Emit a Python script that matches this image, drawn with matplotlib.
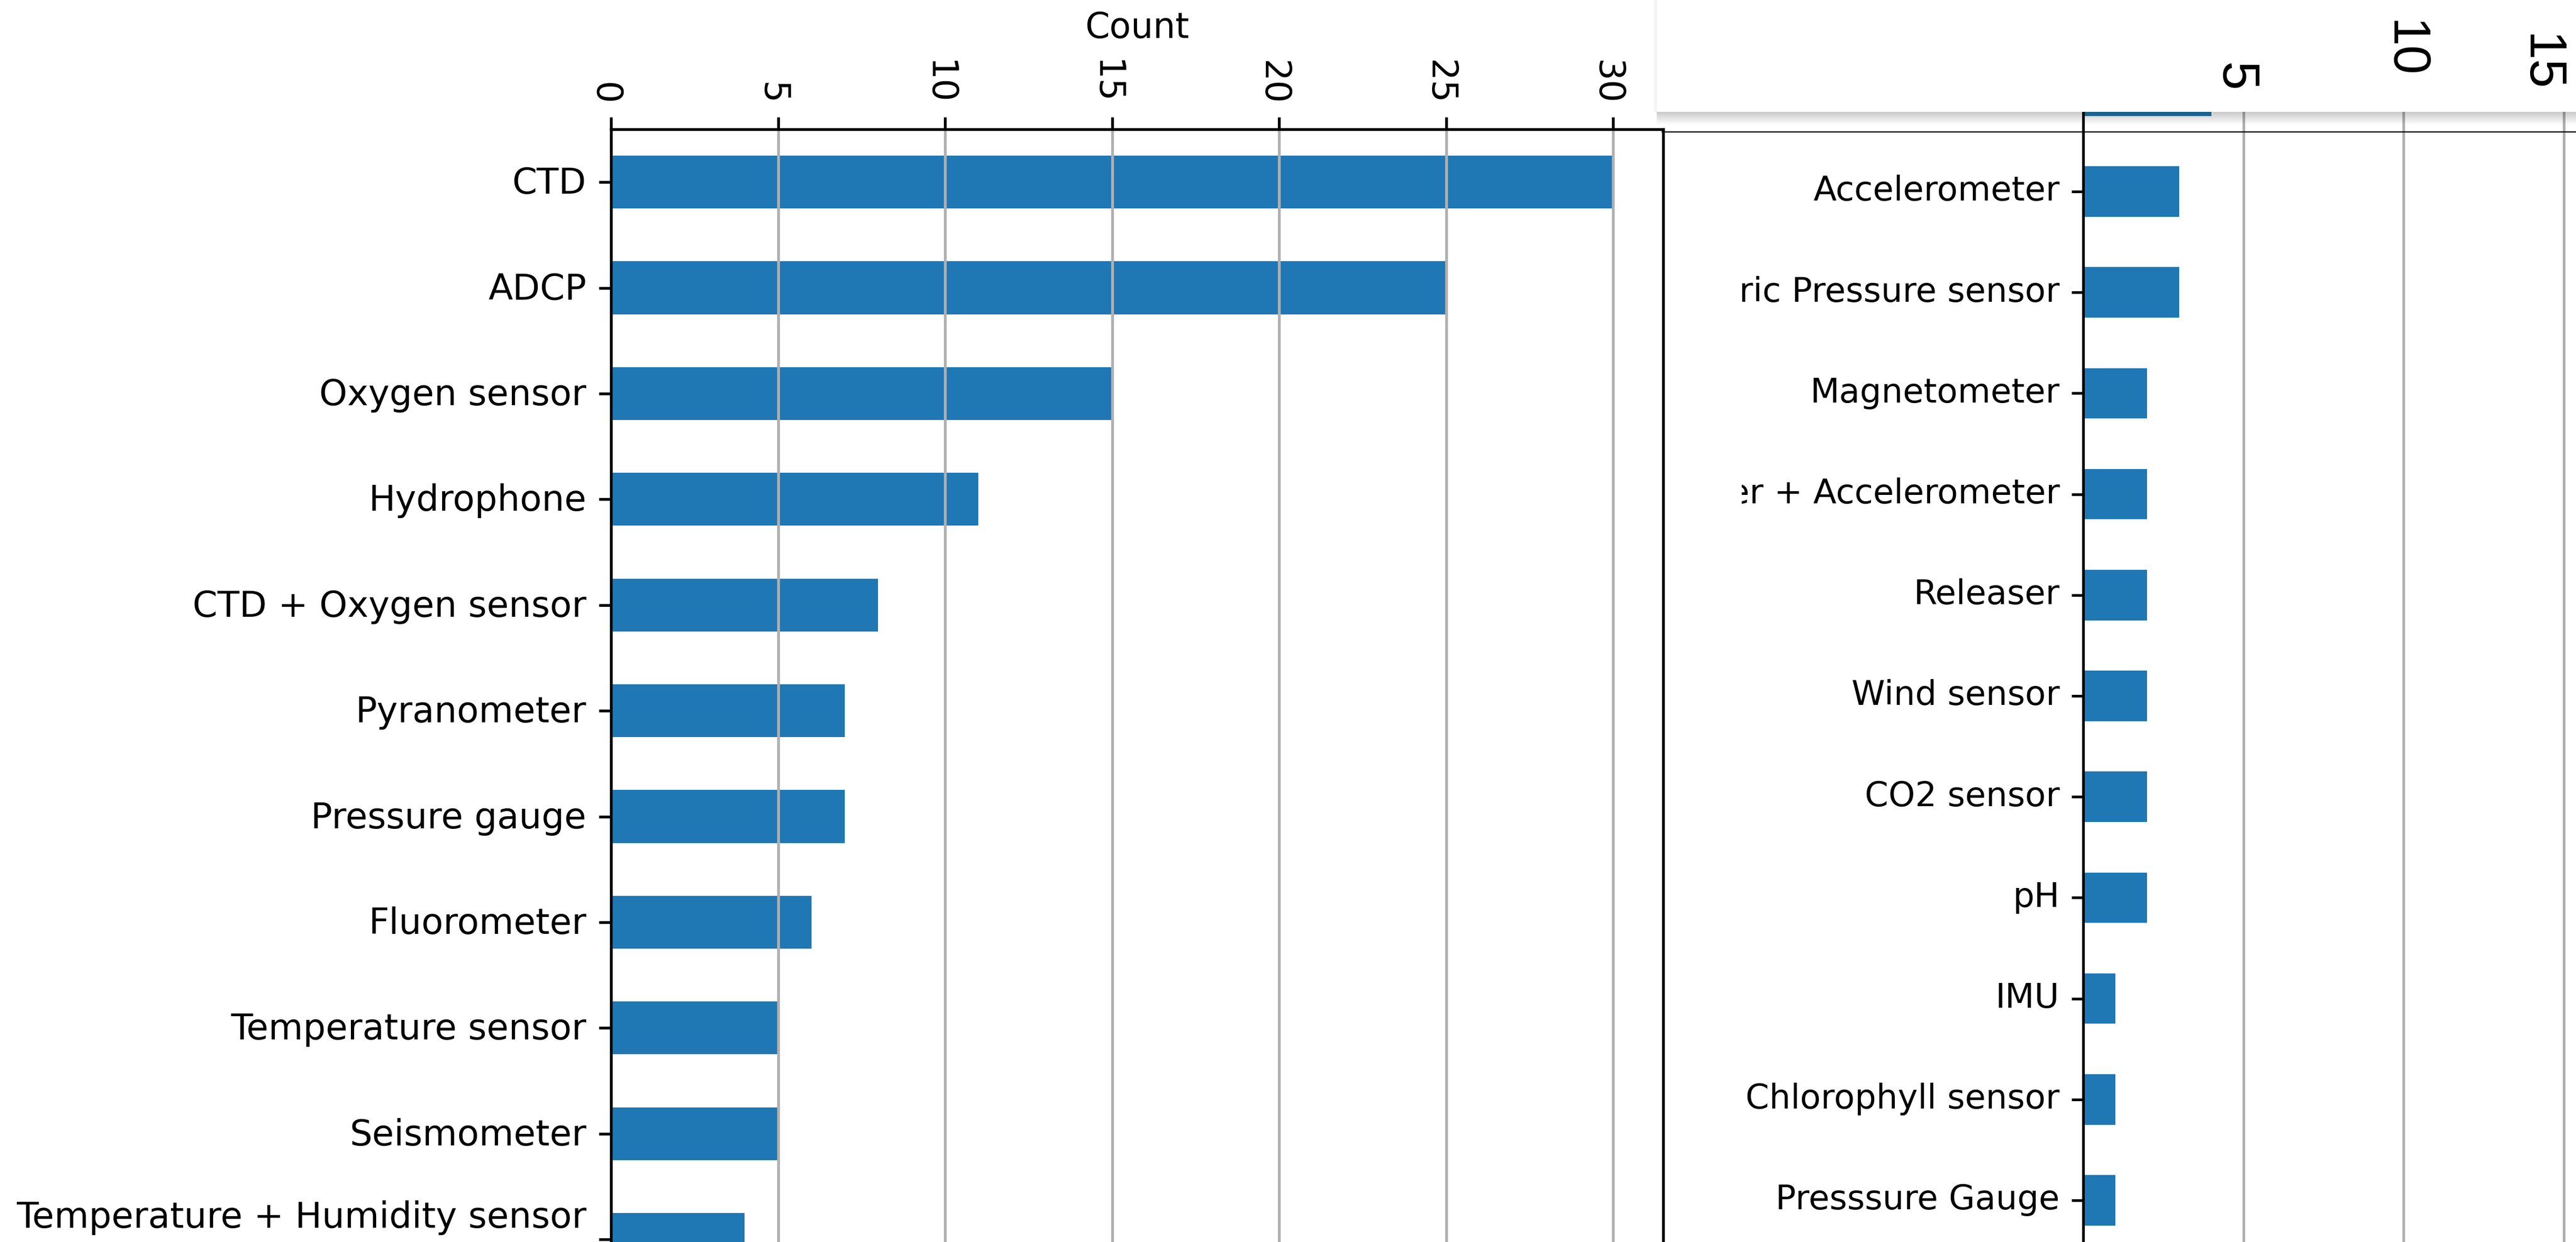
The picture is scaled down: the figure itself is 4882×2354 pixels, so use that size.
import matplotlib
matplotlib.use("Agg")
import matplotlib.pyplot as plt
from matplotlib.patches import Rectangle
from matplotlib.lines import Line2D
from matplotlib.transforms import Bbox, TransformedBbox, ScaledTranslation

# left panel: top of the sorted sensor counts
left_labels = ["CTD", "ADCP", "Oxygen sensor", "Hydrophone", "CTD + Oxygen sensor",
               "Pyranometer", "Pressure gauge", "Fluorometer", "Temperature sensor",
               "Seismometer", "Temperature + Humidity sensor"]
left_counts = [30, 25, 15, 11, 8, 7, 7, 6, 5, 5, 4]

# right panel: further down the same list (first row's label sits under the overlay box)
right_labels = ["", "Accelerometer", "Barometric Pressure sensor", "Magnetometer",
                "Magnetometer + Accelerometer", "Releaser", "Wind sensor", "CO2 sensor",
                "pH", "IMU", "Chlorophyll sensor", "Presssure Gauge"]
right_counts = [4, 3, 3, 2, 2, 2, 2, 2, 2, 1, 1, 1]

# tick labels shown in the white overlay box
overlay_ticks = ["5", "10", "15"]
overlay_pos = [(4209, 145), (4530, 93), (4788, 119)]  # pixel positions

W, H, DPI = 4882, 2354, 480
BLUE = "#1f77b4"


def fx(px):
    return px / W


def fy(py):
    return 1 - py / H


def shift(text, dx_px, dy_px):
    # move a text by some pixels (y up is positive)
    off = ScaledTranslation(dx_px / DPI, dy_px / DPI, fig.dpi_scale_trans)
    text.set_transform(text.get_transform() + off)


fig = plt.figure(figsize=(W / DPI, H / DPI), dpi=DPI)

# 1. Left panel (full scale)
row = 200.4
n1 = len(left_labels)
ax1 = fig.add_axes([fx(1158), fy(245 + n1 * row), (3152 - 1158) / W, n1 * row / H])
pos1 = list(range(n1))
ax1.barh(pos1, left_counts, height=0.5, color=BLUE)
ax1.set_yticks(pos1, left_labels)
ax1.set_ylim(n1 - 0.5, -0.5)
ax1.set_xlim(0, 31.5)
ax1.xaxis.tick_top()
ax1.xaxis.set_label_position("top")
ax1.set_xlabel("Count", labelpad=6.25)
ax1.tick_params(axis="x", labelrotation=270)
ax1.tick_params(axis="y", labelsize=10.15)
ax1.grid(axis="x")

for lab in ax1.get_xticklabels():
    shift(lab, -12, 0)
ylabs1 = ax1.get_yticklabels()
for lab in ylabs1:
    shift(lab, 0, 4)
# last label sits higher so it stays inside the picture
shift(ylabs1[-1], 0, 44)

# 2. Right panel (same chart, slightly smaller)
s = 0.958
rrow = 191.2
n2 = len(right_labels)
top_val = (212 - 171.8) / rrow
h2 = (n2 - 0.5 - top_val) * rrow
ax2 = fig.add_axes([fx(3948), fy(212 + h2), 31.5 * 60.7 / W, h2 / H])
pos2 = list(range(n2))
ax2.barh(pos2, right_counts, height=0.5, color=BLUE)
ax2.set_yticks(pos2, right_labels)
ax2.set_ylim(n2 - 0.5, top_val)
ax2.set_xlim(0, 31.5)
ax2.grid(axis="x", linewidth=0.8 * s)
ax2.tick_params(axis="y", labelsize=9.65, length=3.5 * s, width=0.8 * s, pad=3.5 * s)
ax2.tick_params(axis="x", bottom=False, labelbottom=False)
for sp in ax2.spines.values():
    sp.set_linewidth(0.8 * s)
ax2.spines["top"].set_visible(False)

# labels of the right panel are cut off at its left edge
clip = TransformedBbox(Bbox.from_extents(fx(3301), 0, 1, 1), fig.transFigure)
for lab in ax2.get_yticklabels():
    shift(lab, 0, 7)
    lab.set_clip_box(clip)
    lab.set_clip_on(True)

# 3. White overlay box with drop shadow
box_x = 3140
for i in range(12):
    fig.add_artist(Rectangle((fx(box_x), fy(212 + 2 * (i + 1))), (W - box_x) / W, 2 / H,
                             transform=fig.transFigure, facecolor="black",
                             alpha=0.2 * (1 - i / 12), lw=0, zorder=1))
for i in range(4):
    fig.add_artist(Rectangle((fx(box_x - 2 * (i + 1)), fy(212)), 2 / W, 212 / H,
                             transform=fig.transFigure, facecolor="black",
                             alpha=0.05 * (1 - i / 4), lw=0, zorder=1))
fig.add_artist(Rectangle((fx(box_x), fy(212)), (W - box_x) / W, 212 / H,
                         transform=fig.transFigure, facecolor="white", lw=0, zorder=1.2))

fig.add_artist(Line2D([fx(3150), 1], [fy(250), fy(250)], color="black", lw=0.35,
                      transform=fig.transFigure, zorder=2))

for lab, (x, y) in zip(overlay_ticks, overlay_pos):
    fig.text(fx(x), fy(y), lab, rotation=-90, rotation_mode="anchor", ha="center",
             va="baseline", family="Liberation Sans", fontsize=14.8, zorder=3)

plt.savefig("out.png", dpi=DPI)
plt.close()
